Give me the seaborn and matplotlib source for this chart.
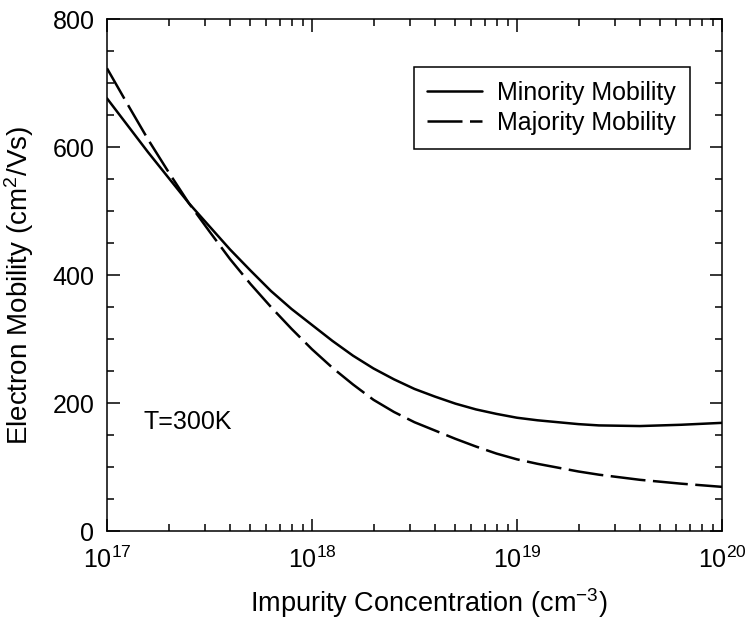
import matplotlib
matplotlib.use("Agg")
import matplotlib.pyplot as plt
import matplotlib.ticker as mticker
import seaborn as sns
import pandas as pd
import numpy as np

# log10 of impurity concentration (cm^-3)
log_conc = [17.0, 17.1, 17.2, 17.3, 17.4, 17.5, 17.6, 17.7, 17.8, 17.9,
            18.0, 18.1, 18.2, 18.3, 18.4, 18.5, 18.6, 18.7, 18.8, 18.9,
            19.0, 19.1, 19.2, 19.3, 19.4, 19.6, 19.8, 20.0]
minority = [676, 634, 592, 552, 512, 476, 440, 407, 375, 347,
            322, 297, 274, 254, 237, 222, 210, 199, 190, 183,
            177, 173, 170, 167, 165, 164, 166, 169]
majority = [723, 667, 612, 561, 512, 468, 425, 386, 350, 316,
            284, 255, 229, 205, 186, 170, 157, 144, 132, 121,
            112, 105, 99, 93, 88, 80, 74, 69]

conc = [10 ** v for v in log_conc]
df = pd.concat([
    pd.DataFrame({"conc": conc, "mobility": minority, "type": "Minority Mobility"}),
    pd.DataFrame({"conc": conc, "mobility": majority, "type": "Majority Mobility"}),
])

sns.set_style("ticks")
plt.rcParams["font.family"] = ["Liberation Sans", "DejaVu Sans"]
plt.rcParams["mathtext.fontset"] = "custom"
plt.rcParams["mathtext.rm"] = "Liberation Sans"
plt.rcParams["mathtext.default"] = "regular"
plt.rcParams["text.color"] = "black"
plt.rcParams["axes.labelcolor"] = "black"
plt.rcParams["xtick.color"] = "black"
plt.rcParams["ytick.color"] = "black"

fig = plt.figure(figsize=(7.46, 6.21), dpi=100)
ax = fig.add_axes([0.1434, 0.1449, 0.8244, 0.8245])

sns.lineplot(data=df, x="conc", y="mobility", style="type", color="black",
             dashes={"Minority Mobility": "", "Majority Mobility": (14, 3)},
             linewidth=1.8, ax=ax)

ax.set_xscale("log")
ax.set_xlim(1e17, 1e20)
ax.set_ylim(0, 800)
ax.xaxis.set_major_locator(mticker.LogLocator(base=10, numticks=10))
ax.xaxis.set_minor_locator(mticker.LogLocator(base=10, subs=np.arange(2, 10), numticks=20))
ax.yaxis.set_major_locator(mticker.MultipleLocator(200))
ax.yaxis.set_minor_locator(mticker.MultipleLocator(50))

ax.tick_params(which="both", direction="in", top=True, right=True, width=1.1,
               labelsize=18)
ax.tick_params(which="major", length=9)
ax.tick_params(which="minor", length=5)
ax.tick_params(axis="y", pad=9)
ax.tick_params(axis="x", pad=11)
for s in ax.spines.values():
    s.set_linewidth(1.1)
    s.set_color("black")

ax.set_xlabel("Impurity Concentration (cm$^{-3}$)", fontsize=19.5)
ax.set_ylabel("Electron Mobility (cm$^{2}$/Vs)", fontsize=20)
ax.xaxis.set_label_coords(0.524, -0.107)
ax.yaxis.set_label_coords(-0.116, 0.48)

ax.text(1.5e17, 170, "T=300K", fontsize=18, ha="left", va="center")

leg = ax.legend(loc="upper right", bbox_to_anchor=(0.948, 0.906), fontsize=18,
                frameon=True, fancybox=False, edgecolor="black", framealpha=1,
                handlelength=2.2, borderpad=0.55, labelspacing=0.25,
                borderaxespad=0, handletextpad=0.6)
leg.get_frame().set_linewidth(1.1)
for h in leg.get_lines():
    h.set_linewidth(1.8)

fig.savefig("out.png", dpi=100)
